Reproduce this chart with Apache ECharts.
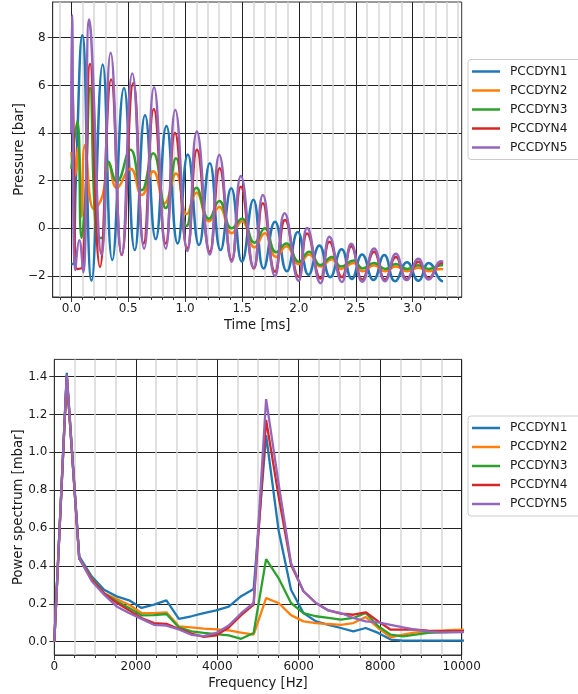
<!DOCTYPE html>
<html><head><meta charset="utf-8">
<script src="https://cdn.jsdelivr.net/npm/echarts@6/dist/echarts.min.js"></script>
<style>html,body{margin:0;padding:0;background:#fff}#c{width:578px;height:694px}</style>
</head><body><div id="c"></div>
<script>
const seriesNames = ['PCCDYN1','PCCDYN2','PCCDYN3','PCCDYN4','PCCDYN5'];
const colors = ['#1f77b4','#ff7f0e','#2ca02c','#d62728','#9467bd'];

// Top plot: pressure [bar] vs time [ms] (peaks / troughs)
const pressure1 = [[0,-1.5],[0.015,-1.5],[0.04,2.0],[0.097,8.1],[0.178,-2.2],[0.276,6.88],[0.36,-1.33],[0.463,5.89],[0.558,-0.91],[0.648,4.75],[0.742,-0.45],[0.836,4.3],[0.935,-0.63],[1.024,3.1],[1.122,-0.7],[1.217,2.73],[1.312,-0.91],[1.405,1.68],[1.5,-1.4],[1.6,1.2],[1.69,-1.68],[1.79,0.28],[1.894,-1.8],[1.99,-0.15],[2.085,-1.95],[2.18,-0.72],[2.275,-2.05],[2.375,-0.88],[2.465,-2.12],[2.555,-1.1],[2.655,-2.17],[2.75,-1.12],[2.845,-2.22],[2.95,-1.42],[3.05,-2.2],[3.14,-1.45],[3.25,-2.2],[3.267,-2.22]];
const pressure2 = [[0,3.2],[0.03,2.2],[0.06,3.4],[0.09,0.5],[0.12,3.5],[0.2,0.8],[0.27,1.3],[0.33,2.7],[0.4,1.7],[0.52,2.5],[0.62,1.4],[0.72,2.4],[0.82,1.05],[0.92,2.3],[1.015,0.6],[1.1,1.5],[1.21,0.3],[1.3,0.9],[1.41,-0.2],[1.5,0.3],[1.61,-0.8],[1.7,-0.2],[1.8,-1.2],[1.89,-0.75],[2.0,-1.5],[2.09,-1.1],[2.19,-1.6],[2.29,-1.3],[2.37,-1.7],[2.48,-1.45],[2.56,-1.8],[2.66,-1.55],[2.76,-1.8],[2.85,-1.6],[2.95,-1.8],[3.05,-1.65],[3.14,-1.8],[3.25,-1.7],[3.267,-1.72]];
const pressure3 = [[0,2.5],[0.053,4.5],[0.09,-0.4],[0.12,1.0],[0.165,5.9],[0.22,-0.3],[0.265,-0.4],[0.33,2.8],[0.4,1.97],[0.52,3.3],[0.62,1.6],[0.72,3.15],[0.83,0.85],[0.92,2.94],[1.015,0.1],[1.1,1.7],[1.21,0.4],[1.3,1.15],[1.41,0.0],[1.5,0.4],[1.61,-0.6],[1.7,0.0],[1.8,-1.0],[1.89,-0.63],[2.0,-1.4],[2.09,-0.98],[2.19,-1.54],[2.29,-1.2],[2.37,-1.6],[2.48,-1.35],[2.56,-1.68],[2.66,-1.45],[2.76,-1.7],[2.85,-1.5],[2.95,-1.7],[3.05,-1.55],[3.14,-1.7],[3.25,-1.55],[3.267,-1.55]];
const pressure4 = [[0,6.2],[0.012,5.8],[0.05,-1.7],[0.1,-1.6],[0.165,6.9],[0.252,-1.61],[0.35,6.25],[0.443,-1.12],[0.545,6.1],[0.636,-0.63],[0.725,5.0],[0.83,-0.63],[0.911,4.0],[1.02,-0.84],[1.104,3.3],[1.217,-0.98],[1.303,2.52],[1.41,-1.33],[1.49,1.75],[1.604,-1.68],[1.683,1.05],[1.79,-1.82],[1.878,0.35],[1.997,-2.03],[2.072,-0.21],[2.19,-2.1],[2.268,-0.56],[2.378,-2.05],[2.46,-0.75],[2.557,-2.15],[2.66,-0.98],[2.756,-2.15],[2.852,-1.2],[2.946,-2.12],[3.05,-1.4],[3.14,-2.1],[3.25,-1.45],[3.267,-1.47]];
const pressure5 = [[0,4.0],[0.006,8.95],[0.035,-1.75],[0.07,-0.5],[0.105,-1.85],[0.156,8.77],[0.175,8.0],[0.267,-1.1],[0.346,7.37],[0.443,-1.1],[0.536,6.5],[0.64,-0.85],[0.727,5.92],[0.83,-0.85],[0.914,4.97],[1.02,-0.95],[1.103,4.07],[1.217,-1.1],[1.3,3.08],[1.41,-1.4],[1.49,2.2],[1.604,-1.65],[1.683,1.4],[1.79,-2.0],[1.874,0.63],[1.997,-2.2],[2.072,0.02],[2.19,-2.3],[2.268,-0.35],[2.378,-2.25],[2.46,-0.65],[2.557,-2.24],[2.66,-0.84],[2.756,-2.22],[2.852,-1.07],[2.946,-2.17],[3.05,-1.28],[3.14,-2.15],[3.25,-1.38],[3.267,-1.4]];

// Bottom plot: power spectrum [mbar] vs frequency [Hz]
const freqHz = [0,306,612,917,1223,1529,1835,2141,2446,2752,3058,3364,3670,3975,4281,4587,4893,5199,5504,5810,6116,6422,6728,7033,7339,7645,7951,8257,8562,8868,9174,9480,9786,10091];
const spectrum1 = [0.0,1.42,0.45,0.345,0.274,0.239,0.218,0.178,0.195,0.218,0.12,0.134,0.151,0.165,0.185,0.24,0.278,1.09,0.59,0.274,0.151,0.107,0.089,0.072,0.054,0.072,0.046,0.011,0.005,0.005,0.005,0.005,0.005,0.005];
const spectrum2 = [0.0,1.40,0.44,0.335,0.255,0.225,0.195,0.151,0.151,0.155,0.081,0.075,0.069,0.065,0.06,0.047,0.037,0.23,0.204,0.14,0.107,0.098,0.093,0.089,0.098,0.13,0.072,0.023,0.037,0.049,0.054,0.058,0.062,0.064];
const spectrum3 = [0.0,1.40,0.44,0.335,0.255,0.213,0.177,0.139,0.14,0.146,0.075,0.054,0.046,0.04,0.033,0.015,0.046,0.436,0.336,0.204,0.151,0.134,0.125,0.116,0.125,0.151,0.081,0.037,0.028,0.037,0.046,0.049,0.05,0.052];
const spectrum4 = [0.0,1.40,0.44,0.33,0.255,0.205,0.165,0.125,0.098,0.094,0.067,0.042,0.025,0.033,0.075,0.14,0.195,1.171,0.77,0.406,0.266,0.204,0.165,0.148,0.142,0.155,0.107,0.063,0.063,0.063,0.058,0.056,0.056,0.056];
const spectrum5 = [0.0,1.41,0.44,0.32,0.248,0.186,0.151,0.12,0.089,0.085,0.064,0.036,0.029,0.046,0.085,0.15,0.204,1.281,0.837,0.415,0.266,0.204,0.165,0.151,0.125,0.107,0.102,0.089,0.075,0.063,0.054,0.049,0.05,0.05];

const timeTicks = [0,0.5,1,1.5,2,2.5,3];
const timeMinorTicks = [-0.1,0.1,0.2,0.3,0.4,0.6,0.7,0.8,0.9,1.1,1.2,1.3,1.4,1.6,1.7,1.8,1.9,2.1,2.2,2.3,2.4,2.6,2.7,2.8,2.9,3.1,3.2,3.3,3.4];
const pressureTicks = [-2,0,2,4,6,8];
const spectrumTicks = [0,0.2,0.4,0.6,0.8,1.0,1.2,1.4];

const pressureData = [pressure1,pressure2,pressure3,pressure4,pressure5];
const spectrumData = [spectrum1,spectrum2,spectrum3,spectrum4,spectrum5];

const FONT = 'DejaVu Sans';
const TXT = '#1a1a1a';
const AX = '#333';
const fs = 12;
const fsName = 13.2;

const chart = echarts.init(document.getElementById('c'), null, {renderer:'canvas'});

const series = [];
pressureData.forEach((d,i)=>{
  series.push({name:seriesNames[i], type:'line', xAxisIndex:0, yAxisIndex:0, data:d,
    smooth:0.5, showSymbol:false, symbol:'none', lineStyle:{width:2.5,color:colors[i]}, itemStyle:{color:colors[i]}, z:3+i});
});
spectrumData.forEach((d,i)=>{
  series.push({name:seriesNames[i], type:'line', xAxisIndex:2, yAxisIndex:1,
    data:freqHz.map((f,k)=>[f,d[k]]), showSymbol:false, symbol:'none', clip:true,
    lineStyle:{width:2.3,color:colors[i]}, itemStyle:{color:colors[i]}, z:3+i});
});

const legendCommon = {
  orient:'vertical', left:468, data:seriesNames, icon:'rect', itemWidth:28, itemHeight:2.5,
  itemGap:5, padding:[5,40,5,4], borderColor:'#cccccc', borderWidth:1, borderRadius:3,
  backgroundColor:'rgba(255,255,255,0.8)', selectedMode:false,
  textStyle:{fontFamily:FONT, fontSize:12.2, color:TXT, lineHeight:14, padding:[0,0,0,5]}
};

const minus = s => String(s).replace('-', '\u2212');

chart.setOption({
  animation:false,
  backgroundColor:'#fff',
  grid:[
    {left:52.7, right:116.3, top:2, height:295, show:true, borderColor:AX, borderWidth:1, containLabel:false, outerBoundsMode:'none'},
    {left:54.3, right:116.3, top:359.4, height:295.6, show:true, borderColor:AX, borderWidth:1, containLabel:false, outerBoundsMode:'none'}
  ],
  legend:[Object.assign({top:59.5}, legendCommon), Object.assign({top:416}, legendCommon)],
  xAxis:[
    {type:'value', gridIndex:0, min:-0.1634, max:3.4304,
     name:'Time [ms]', nameLocation:'middle', nameGap:22, nameMoveOverlap:false,
     nameTextStyle:{fontFamily:FONT, fontSize:fsName, color:TXT},
     axisLine:{show:true, onZero:false, lineStyle:{color:AX, width:1}},
     axisTick:{show:true, inside:false, length:5, customValues:timeTicks, lineStyle:{color:AX}},
     axisLabel:{show:true, customValues:timeTicks, margin:6, fontFamily:FONT, fontSize:fs, color:TXT, formatter:v=>Number(v).toFixed(1)},
     splitLine:{show:true, lineStyle:{color:'#222', width:1}}},
    {type:'value', gridIndex:0, min:-0.1634, max:3.4304, position:'bottom',
     axisLine:{show:false, onZero:false},
     axisTick:{show:true, length:3, customValues:timeMinorTicks, lineStyle:{color:AX}},
     axisLabel:{show:false},
     splitLine:{show:true, lineStyle:{color:'#d6d6d6', width:1.5}}},
    {type:'value', gridIndex:1, min:0, max:10000, interval:2000,
     name:'Frequency [Hz]', nameLocation:'middle', nameGap:22, nameMoveOverlap:false,
     nameTextStyle:{fontFamily:FONT, fontSize:fsName, color:TXT},
     axisLine:{show:true, onZero:false, lineStyle:{color:AX, width:1}},
     axisTick:{show:true, length:5, lineStyle:{color:AX}},
     minorTick:{show:true, splitNumber:4, length:3, lineStyle:{color:AX}},
     minorSplitLine:{show:true, lineStyle:{color:'#d6d6d6', width:1.5}},
     axisLabel:{show:true, margin:6, fontFamily:FONT, fontSize:fs, color:TXT, formatter:v=>String(v)},
     splitLine:{show:true, lineStyle:{color:'#222', width:1}}}
  ],
  yAxis:[
    {type:'value', gridIndex:0, min:-2.88, max:9.5,
     name:'Pressure [bar]', nameLocation:'middle', nameGap:27, nameRotate:90, nameMoveOverlap:false,
     nameTextStyle:{fontFamily:FONT, fontSize:fsName, color:TXT},
     axisLine:{show:true, onZero:false, lineStyle:{color:AX, width:1}},
     axisTick:{show:true, length:5, customValues:pressureTicks, lineStyle:{color:AX}},
     axisLabel:{show:true, customValues:pressureTicks, margin:7, fontFamily:FONT, fontSize:fs, color:TXT, formatter:v=>minus(v)},
     splitLine:{show:true, lineStyle:{color:'#222', width:1}}},
    {type:'value', gridIndex:1, min:-0.0706, max:1.4905,
     name:'Power spectrum [mbar]', nameLocation:'middle', nameGap:29, nameRotate:90, nameMoveOverlap:false,
     nameTextStyle:{fontFamily:FONT, fontSize:fsName, color:TXT},
     axisLine:{show:true, onZero:false, lineStyle:{color:AX, width:1}},
     axisTick:{show:true, length:5, customValues:spectrumTicks, lineStyle:{color:AX}},
     axisLabel:{show:true, customValues:spectrumTicks, margin:7, fontFamily:FONT, fontSize:fs, color:TXT, formatter:v=>Number(v).toFixed(1)},
     splitLine:{show:true, lineStyle:{color:'#222', width:1}}}
  ],
  series:series
});
</script></body></html>
